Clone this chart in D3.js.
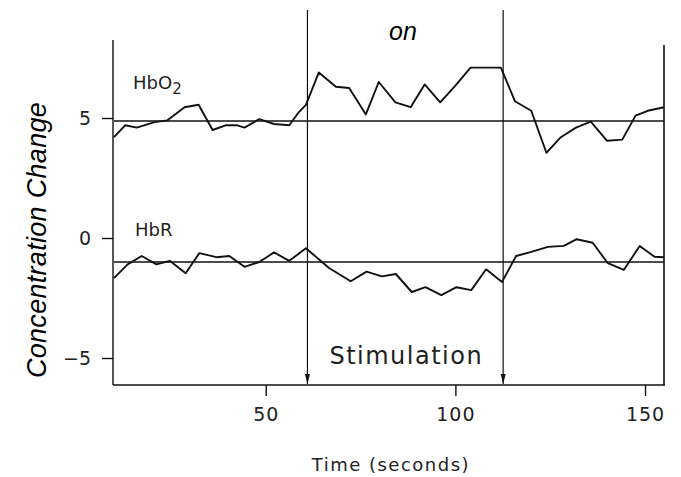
<!DOCTYPE html>
<html>
<head>
<meta charset="utf-8">
<script src="https://cdn.jsdelivr.net/npm/d3@7"></script>
<style>
  html, body { margin: 0; padding: 0; background: #fff; }
  svg { display: block; }
</style>
</head>
<body>
<svg id="chart" width="681" height="477"></svg>
<script>
// Oxy-haemoglobin trace (time in seconds, concentration change)
const hbo2Time   = [10, 13, 16, 20.7, 24, 28.6, 32.3, 36, 39.6, 42.3, 44.4, 48.3, 52.2, 56.2, 58.5, 60.6, 64, 68.5, 72, 76.4, 79.8, 84.2, 88.2, 91.9, 96, 100, 104, 111, 112, 115.7, 120, 124, 127.8, 131.8, 135.7, 140, 144, 147.5, 150.7, 155];
const hbo2Values = [4.2, 4.7, 4.6, 4.83, 4.9, 5.45, 5.55, 4.5, 4.7, 4.7, 4.6, 4.95, 4.75, 4.7, 5.2, 5.55, 6.9, 6.3, 6.25, 5.15, 6.5, 5.65, 5.45, 6.4, 5.65, 6.35, 7.1, 7.1, 7.1, 5.7, 5.3, 3.55, 4.2, 4.6, 4.85, 4.05, 4.1, 5.1, 5.3, 5.45];

// Deoxy-haemoglobin trace
const hbrTime   = [10, 13.6, 17.3, 21.2, 24.7, 28.9, 32.5, 37, 40.4, 44.4, 48.3, 52.2, 56.2, 60.6, 66.7, 72.4, 76.6, 80.6, 84.3, 88.5, 92.1, 96.3, 100.3, 104.2, 108.1, 112.3, 116, 120, 124.4, 128.6, 132, 136.2, 140.2, 144.4, 148.6, 152.5, 155];
const hbrValues = [-1.67, -1.1, -0.75, -1.1, -0.95, -1.47, -0.63, -0.8, -0.75, -1.2, -1.0, -0.6, -0.95, -0.43, -1.25, -1.8, -1.4, -1.6, -1.5, -2.25, -2.05, -2.38, -2.05, -2.17, -1.3, -1.83, -0.75, -0.58, -0.37, -0.33, -0.05, -0.2, -1.05, -1.33, -0.33, -0.78, -0.8];

// Resting baselines for each trace
const baselines = [4.88, -1.0];

// Stimulation onset / offset markers (seconds)
const stimMarks = [61, 112.6];

const xTicks = [50, 100, 150];
const yTicks = [5, 0, -5];
const yTickLabels = ["5", "0", "\u22125"];

const svg = d3.select("#chart");
const ink = "#111";
const plotFont = "'DejaVu Sans', sans-serif";

const x = d3.scaleLinear().domain([10, 155]).range([114, 664]);
const y = d3.scaleLinear().domain([0, 5]).range([238, 118]);
const yBottom = 385;
const yTop = y.invert(40);

// Left axis
const yAxis = d3.axisLeft(y).tickValues(yTicks)
  .tickFormat((d, i) => yTickLabels[i]).tickSize(11).tickPadding(11);
const gy = svg.append("g").attr("transform", `translate(${x(10) - 1},0)`).call(yAxis);
gy.select(".domain").remove();
gy.append("line").attr("x1", 0).attr("x2", 0)
  .attr("y1", y(yTop)).attr("y2", yBottom)
  .attr("stroke", ink).attr("stroke-width", 1.4);
gy.selectAll(".tick line").attr("stroke", ink).attr("stroke-width", 1.4);
gy.selectAll(".tick text").attr("fill", "#222")
  .style("font-family", plotFont).style("font-size", "19px");

// Bottom axis
const xAxis = d3.axisBottom(x).tickValues(xTicks).tickSize(11).tickPadding(12);
const gx = svg.append("g").attr("transform", `translate(0,${yBottom})`).call(xAxis);
gx.select(".domain").remove();
gx.append("line").attr("x1", x(10) - 1).attr("x2", x(155) + 1)
  .attr("y1", 0).attr("y2", 0).attr("stroke", ink).attr("stroke-width", 1.5);
gx.selectAll(".tick line").attr("stroke", ink).attr("stroke-width", 1.4);
gx.selectAll(".tick text").attr("fill", "#222")
  .style("font-family", plotFont).style("font-size", "19px")
  .style("letter-spacing", "1px");

// Right frame edge
svg.append("line")
  .attr("x1", x(155)).attr("x2", x(155))
  .attr("y1", 45).attr("y2", yBottom)
  .attr("stroke", ink).attr("stroke-width", 1.6);

// Baselines
svg.selectAll(".baseline").data(baselines).join("line")
  .attr("class", "baseline")
  .attr("x1", x(10)).attr("x2", x(155))
  .attr("y1", d => y(d)).attr("y2", d => y(d))
  .attr("stroke", ink).attr("stroke-width", 1.5);

// Traces
const line = d3.line().x(d => x(d[0])).y(d => y(d[1]));
const traces = [d3.zip(hbo2Time, hbo2Values), d3.zip(hbrTime, hbrValues)];
svg.selectAll(".trace").data(traces).join("path")
  .attr("class", "trace")
  .attr("d", line)
  .attr("fill", "none").attr("stroke", ink)
  .attr("stroke-width", 1.9).attr("stroke-linejoin", "round");

// Stimulation markers with arrowheads
svg.selectAll(".stim").data(stimMarks).join("line")
  .attr("class", "stim")
  .attr("x1", d => x(d)).attr("x2", d => x(d))
  .attr("y1", 10).attr("y2", yBottom - 1)
  .attr("stroke", ink).attr("stroke-width", 1.2);
svg.selectAll(".stimhead").data(stimMarks).join("path")
  .attr("class", "stimhead")
  .attr("d", d => `M${x(d) - 2.5},${yBottom - 11} L${x(d)},${yBottom - 1} L${x(d) + 2.5},${yBottom - 11} Z`)
  .attr("fill", ink);

// Text labels
svg.append("text")
  .attr("x", (x(stimMarks[0]) + x(stimMarks[1])) / 2 + 1).attr("y", 364)
  .attr("text-anchor", "middle")
  .style("font-family", plotFont).style("font-size", "24px")
  .style("letter-spacing", "1.5px")
  .attr("fill", "#222").text("Stimulation");

svg.append("text")
  .attr("x", 403).attr("y", 40).attr("text-anchor", "middle")
  .style("font-family", "'Liberation Sans', Arial, sans-serif").style("font-size", "25px")
  .style("font-style", "italic").attr("fill", "#000").text("on");

const hbo2Label = svg.append("text").attr("x", 133).attr("y", 89)
  .style("font-family", plotFont).style("font-size", "18px").attr("fill", "#222");
hbo2Label.append("tspan").text("HbO");
hbo2Label.append("tspan").attr("dy", 5).style("font-size", "15px").text("2");

svg.append("text").attr("x", 135).attr("y", 236)
  .style("font-family", plotFont).style("font-size", "18px")
  .attr("fill", "#222").text("HbR");

svg.append("text")
  .attr("transform", `translate(46,240) rotate(-90)`)
  .attr("text-anchor", "middle")
  .style("font-family", "'Liberation Sans', Arial, sans-serif").style("font-size", "27px")
  .style("letter-spacing", "0.3px")
  .style("font-style", "italic").attr("fill", "#000").text("Concentration Change");

svg.append("text")
  .attr("x", x(83)).attr("y", 471).attr("text-anchor", "middle")
  .style("font-family", plotFont).style("font-size", "18px")
  .style("letter-spacing", "1.5px")
  .attr("fill", "#222").text("Time (seconds)");
</script>
</body>
</html>
